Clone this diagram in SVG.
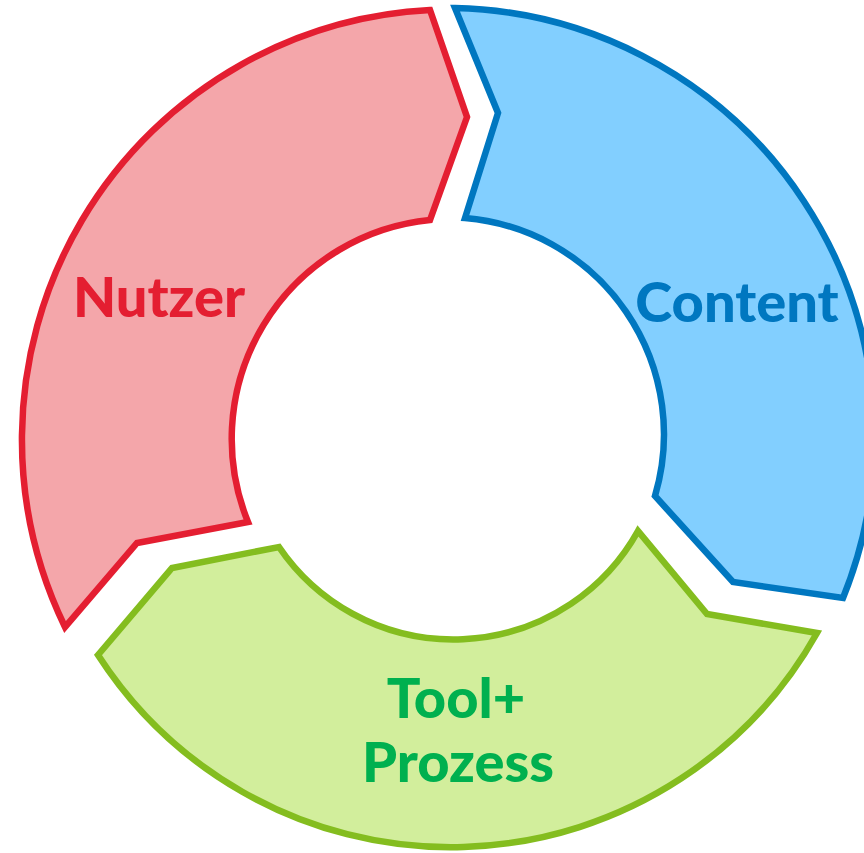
<svg xmlns="http://www.w3.org/2000/svg" width="864" height="853" viewBox="0 0 864 853">
<style>
.seg{stroke-width:6.5;stroke-linejoin:miter}
.lbl{font-family:Lato,"Liberation Sans",sans-serif;font-weight:900;font-size:56px;text-anchor:middle}
</style>
<rect width="864" height="853" fill="#ffffff"/>
<g id="nutzer">
<path class="seg" fill="#F4A6AA" stroke="#E41E31" d="M 430 10 L 467 117 L 430 220 A 220 220 0 0 0 248 522 L 137 543 L 65 627 A 430 430 0 0 1 430 10 Z"/>
<text class="lbl" x="159" y="317" fill="#E41E31">Nutzer</text>
</g>
<g id="content">
<path class="seg" fill="#82CFFF" stroke="#0077C0" d="M 455 8 L 498 113 L 465 218 A 217 217 0 0 1 655 496 L 733 582 L 843 598 A 429 429 0 0 0 455 8 Z"/>
<text class="lbl" x="737" y="322" fill="#0077C0">Content</text>
</g>
<g id="tool">
<path class="seg" fill="#D2EE9C" stroke="#84BD1F" d="M 98 655 L 172 568 L 279 547 A 211 211 0 0 0 638 531 L 707 614 L 817 633 A 420 420 0 0 1 98 655 Z"/>
<text class="lbl" x="456" y="718" fill="#00B04F">Tool+</text>
<text class="lbl" x="458" y="782" fill="#00B04F">Prozess</text>
</g>
</svg>
